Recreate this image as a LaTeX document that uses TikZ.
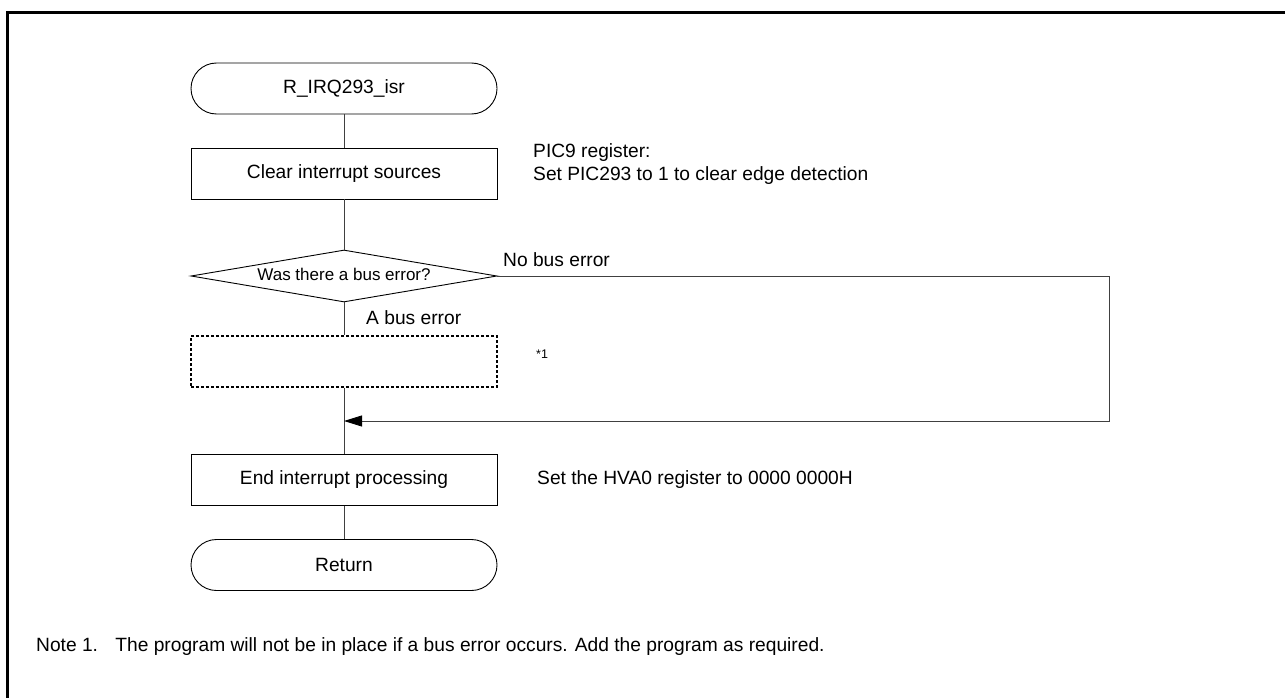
\documentclass[tikz,border=0pt]{standalone}
\usepackage{fontspec}
\setmainfont{Liberation Sans}
\usetikzlibrary{shapes.geometric,arrows.meta}

\begin{document}
\begin{tikzpicture}[x=1pt,y=-1pt,
  every node/.style={font=\fontsize{19.2}{23}\selectfont},
  term/.style={draw=black,line width=0.9pt,rectangle,rounded corners=25.5pt,
    minimum width=306pt,minimum height=51pt,inner sep=0pt},
  proc/.style={draw=black,line width=0.9pt,rectangle,
    minimum width=306pt,minimum height=51pt,inner sep=0pt},
  optbox/.style={draw=black,line width=1.1pt,dash pattern=on 3pt off 2pt,rectangle,
    minimum width=306pt,minimum height=51pt,inner sep=0pt},
  decision/.style={draw=black,line width=0.9pt,diamond,aspect=5.88,
    minimum width=306pt,minimum height=52pt,inner sep=0pt},
  flow/.style={draw=black!75,line width=0.9pt},
  note/.style={anchor=west,inner sep=0pt},
  small/.style={font=\fontsize{17}{20}\selectfont}
]
\clip (0,0) rectangle (1285,698);
\fill[white] (0,0) rectangle (1285,698);

% outer frame
\draw[line width=3.2pt] (7.5,12.5) rectangle (1310,720);

% flowchart nodes
\node[term] (start) at (344,88.5) {R\_IRQ293\_isr};
\node[proc] (clr) at (344,173.5) {Clear interrupt sources};
\node[decision] (dec) at (344,276) {};
\node[small,inner sep=0pt] (dectxt) at (344,274.5) {Was there a bus error?};
\node[optbox] (opt) at (344,361.5) {};
\node[proc] (endp) at (344,480) {End interrupt processing};
\node[term] (ret) at (344,565) {Return};

\coordinate (join) at (344,421);
\coordinate (rturn) at (1109,276);

% connectors
\draw[flow] (start) -- (clr);
\draw[flow] (clr) -- (dec);
\draw[flow] (dec) -- (opt);
\draw[flow] (opt) -- (endp);
\draw[flow] (endp) -- (ret);
\draw[flow] (dec.east) -- (rturn);
\draw[flow,-{Triangle[length=18pt,width=11pt,color=black,fill=black]}] (rturn) |- (join);

% branch labels
\node[note] (nob) at (503,260) {No bus error};
\node[note] (ab) at (366,318) {A bus error};

% side annotations
\node[note,align=left] (pic) at (533,164.5) {PIC9 register:\\Set PIC293 to 1 to clear edge detection};
\node[note,font=\fontsize{12.5}{14}\selectfont] (star) at (536,354) {*1};
\node[note] (hva) at (537,480) {Set the HVA0 register to 0000 0000H};

% footnote
\node[note] (fn) at (36,647) {Note 1.\hspace{0.9em}The program will not be in place if a bus error occurs. Add the program as required.};
\end{tikzpicture}
\end{document}
